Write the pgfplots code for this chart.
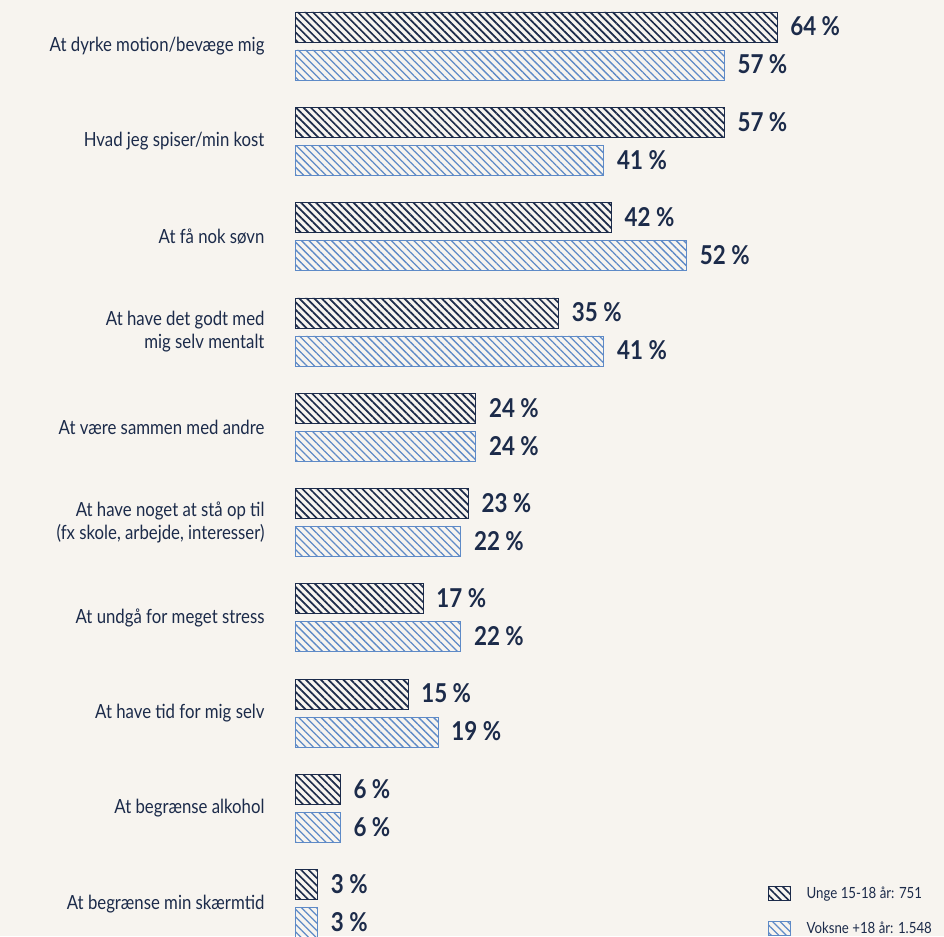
\documentclass[border=0pt]{standalone}
\usepackage{pgfplots}
\pgfplotsset{compat=1.18}
\usetikzlibrary{patterns.meta}
\usepackage{fontspec}
\setmainfont{Lato}[FakeStretch=0.86]
\definecolor{bg}{HTML}{F7F4EF}
\definecolor{navy}{HTML}{1C2B4A}
\definecolor{lblue}{HTML}{5E8AC7}
\begin{document}
\begin{tikzpicture}[x=1pt,y=1pt]
\fill[bg] (0,0) rectangle (944,936);
\begin{axis}[
  anchor=origin, at={(295pt,890pt)},
  x=7.53pt, y=95.3pt, y dir=reverse,
  xmin=0, xmax=86.2, ymin=-0.48, ymax=9.34,
  xbar, bar width=30pt,
  axis line style={draw=none},
  major tick length=0pt,
  xtick=\empty,
  ytick={0,...,9},
  /pgf/number format/assume math mode=true,
  yticklabels={At dyrke motion/bevæge mig, Hvad jeg spiser/min kost, At få nok søvn, {At have det godt med\\mig selv mentalt}, At være sammen med andre, {At have noget at stå op til\\(fx skole, arbejde, interesser)}, At undgå for meget stress, At have tid for mig selv, At begrænse alkohol, At begrænse min skærmtid},
  yticklabel style={align=right, font=\fontsize{19.5}{23}\selectfont, text=navy, xshift=-27pt},
  clip=false,
  nodes near coords={\pgfmathprintnumber{\pgfplotspointmeta} \%},
  nodes near coords style={font=\bfseries\fontsize{26}{29}\selectfont, text=navy, anchor=west, xshift=12pt, yshift=0.5pt, inner sep=1pt},
  legend style={draw=none, fill=none, at={(rel axis cs:1,0)}, anchor=south east, xshift=-10pt, yshift=-1pt, font=\fontsize{15.4}{17}\selectfont, text=navy, row sep=18pt, cells={anchor=west}, inner sep=0pt},
  legend image code/.code={\path[draw=none,fill=none] (0pt,0pt) (36pt,0pt); \draw[#1] (0pt,-7pt) rectangle (22pt,7pt);},
]
\addplot[draw=navy, line width=0.8pt, bar shift=19pt, pattern={Lines[angle=-45,distance=5.3pt,line width=1.7pt]}, pattern color=navy] coordinates {(64,0) (57,1) (42,2) (35,3) (24,4) (23,5) (17,6) (15,7) (6,8) (3,9)};
\addplot[draw=lblue, line width=0.8pt, bar shift=-19pt, pattern={Lines[angle=-45,distance=5.3pt,line width=1.3pt]}, pattern color=lblue] coordinates {(57,0) (41,1) (52,2) (41,3) (24,4) (22,5) (22,6) (19,7) (6,8) (3,9)};
\legend{Unge 15-18 år: 751, Voksne +18 år: 1.548}
\end{axis}
\pgfresetboundingbox
\useasboundingbox (0,0) rectangle (944,936);
\end{tikzpicture}
\end{document}
